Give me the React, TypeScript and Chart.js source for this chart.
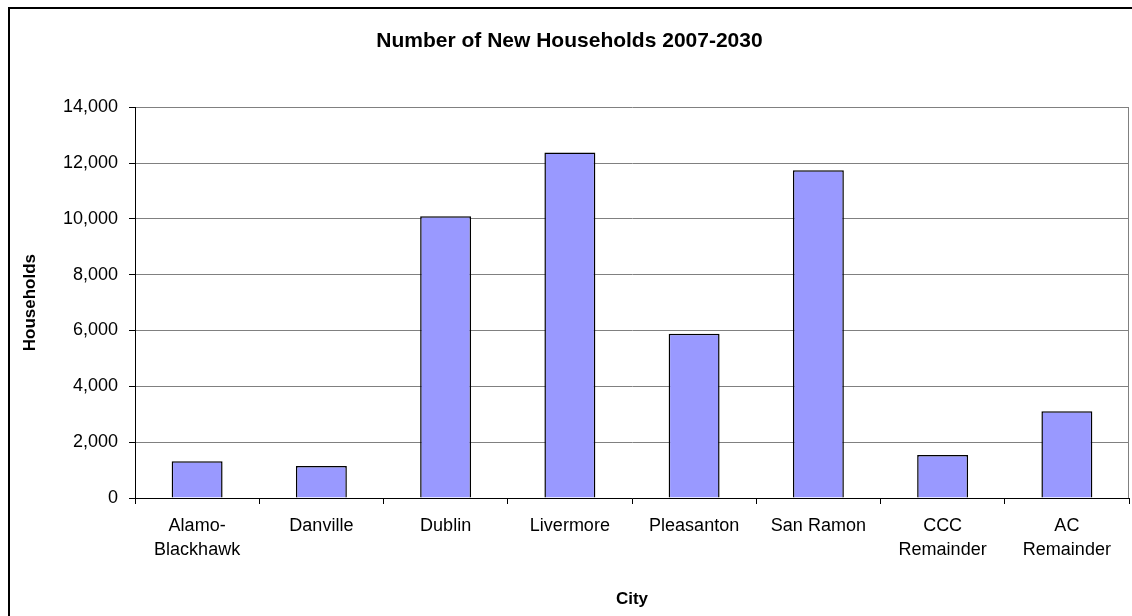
import React, { useEffect, useRef } from "react";
import { Chart, registerables } from "chart.js";

Chart.register(...registerables);

const categories: (string | string[])[] = [
  ["Alamo-", "Blackhawk"],
  "Danville",
  "Dublin",
  "Livermore",
  "Pleasanton",
  "San Ramon",
  ["CCC", "Remainder"],
  ["AC", "Remainder"],
];
const households = [1320, 1150, 10090, 12380, 5880, 11740, 1540, 3110];
const yMin = 0;
const yMax = 14000;
const yStep = 2000;
const chartTitle = "Number of New Households 2007-2030";
const xTitle = "City";
const yTitle = "Households";

const FONT = "'Liberation Sans', Arial, sans-serif";

const plotBorder = {
  id: "plotBorder",
  afterDraw(chart: any) {
    const { ctx, chartArea } = chart;
    ctx.save();
    ctx.strokeStyle = "#808080";
    ctx.lineWidth = 1;
    ctx.beginPath();
    const x = Math.round(chartArea.right) - 0.5;
    ctx.moveTo(x, chartArea.top);
    ctx.lineTo(x, chartArea.bottom);
    ctx.stroke();
    ctx.restore();
  },
};

export default function App() {
  const ref = useRef<HTMLCanvasElement | null>(null);

  useEffect(() => {
    document.documentElement.style.overflow = "hidden";
    document.body.style.overflow = "hidden";
    if (!ref.current) return;
    Chart.defaults.color = "#000";
    const chart = new Chart(ref.current, {
      type: "bar",
      data: {
        labels: categories,
        datasets: [
          {
            data: households,
            backgroundColor: "#9999FF",
            borderColor: "#000000",
            borderWidth: 1.5,
            barPercentage: 0.41,
            categoryPercentage: 1,
          },
        ],
      },
      options: {
        responsive: false,
        animation: false,
        layout: { padding: { left: 0, right: 3, top: 0, bottom: 0 } },
        plugins: {
          legend: { display: false },
          tooltip: { enabled: false },
          title: {
            display: true,
            text: chartTitle,
            color: "#000",
            font: { family: FONT, size: 21, weight: "bold", lineHeight: 1.2 },
            padding: { top: 20, bottom: 53 },
          },
        },
        scales: {
          x: {
            afterFit: (s: any) => {
              s.height = 118;
            },
            grid: {
              offset: true,
              drawOnChartArea: false,
              drawTicks: true,
              tickLength: 6,
              color: "#000",
            },
            border: { display: true, color: "#000", width: 1 },
            ticks: {
              color: "#000",
              padding: 10,
              maxRotation: 0,
              autoSkip: false,
              font: { family: FONT, size: 18, lineHeight: 1.33 },
            },
            title: {
              display: true,
              text: xTitle,
              color: "#000",
              font: { family: FONT, size: 17, weight: "bold", lineHeight: 1.2 },
              padding: { top: 0, bottom: 6 },
            },
          },
          y: {
            min: yMin,
            max: yMax,
            afterFit: (s: any) => {
              s.width = 125;
            },
            grid: {
              color: "#808080",
              drawTicks: true,
              tickLength: 6,
              tickColor: "#000",
            },
            border: { display: true, color: "#000", width: 1 },
            ticks: {
              stepSize: yStep,
              color: "#000",
              padding: 11,
              font: { family: FONT, size: 18 },
            },
            title: {
              display: true,
              text: yTitle,
              color: "#000",
              font: { family: FONT, size: 17, weight: "bold", lineHeight: 1.2 },
              padding: { top: 10, bottom: 0 },
            },
          },
        },
      },
      plugins: [plotBorder],
    });
    return () => chart.destroy();
  }, []);

  return (
    <div
      style={{
        position: "fixed",
        left: 8,
        top: 7,
        width: 1124,
        height: 609,
        borderLeft: "2px solid #000",
        borderTop: "2px solid #000",
        boxSizing: "border-box",
        overflow: "hidden",
      }}
    >
      <canvas ref={ref} width={1122} height={607} style={{ display: "block" }} />
    </div>
  );
}
